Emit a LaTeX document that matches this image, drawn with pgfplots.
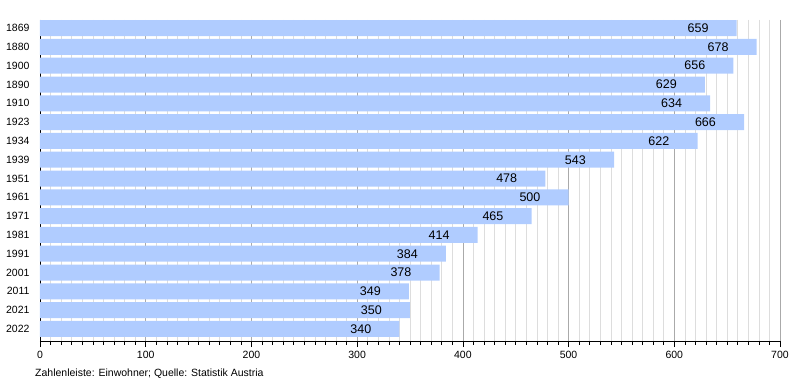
\documentclass[border=0pt]{standalone}
\usepackage{pgfplots}
\pgfplotsset{compat=1.18}
\usepackage{fontspec}
\setmainfont{Liberation Sans}
\definecolor{barblue}{HTML}{B0CCFF}
\definecolor{minorgrid}{HTML}{DDDDDD}
\definecolor{majorgrid}{HTML}{AAAAAA}
\begin{document}
\begin{tikzpicture}[x=1pt,y=1pt]
\useasboundingbox (0,0) rectangle (800,380);
\begin{axis}[
  at={(40pt,39pt)}, anchor=south west,
  scale only axis, width=740pt, height=321pt,
  xbar, bar width=16pt,
  xmin=0, xmax=700,
  ymin=-0.43, ymax=16.64, y dir=reverse,
  ytick={0,...,16},
  yticklabels={1869,1880,1900,1890,1910,1923,1934,1939,1951,1961,1971,1981,1991,2001,2011,2021,2022},
  xtick={0,100,...,700},
  minor x tick num=9,
  axis x line*=bottom, axis y line*=left,
  axis line style={-, black, line width=0.8pt},
  xmajorgrids, xminorgrids,
  major grid style={majorgrid, line width=0.6pt},
  minor grid style={minorgrid, line width=0.6pt},
  ytick style={draw=none},
  xtick style={black, line width=0.6pt},
  major tick length=6pt, minor tick length=3.5pt,
  tick align=outside,
  /pgf/number format/assume math mode=true,
  ticklabel style={font=\fontsize{10.5}{12}\selectfont},
  yticklabel style={xshift=-1pt},
  xticklabel style={yshift=-1pt},
  nodes near coords,
  every node near coord/.append style={anchor=east, xshift=-28pt, inner sep=0pt, font=\fontsize{12.5}{14}\selectfont, black},
  axis on top=false,
  clip=false,
]
\addplot[fill=barblue, draw=none] coordinates {
(659,0) (678,1) (656,2) (629,3) (634,4) (666,5) (622,6) (543,7) (478,8) (500,9) (465,10) (414,11) (384,12) (378,13) (349,14) (350,15) (340,16)
};
\end{axis}
\node[anchor=base west, inner sep=0pt, font=\fontsize{10.5}{12}\selectfont] at (35,4) {Zahlenleiste: Einwohner; Quelle: Statistik Austria};
\end{tikzpicture}
\end{document}
